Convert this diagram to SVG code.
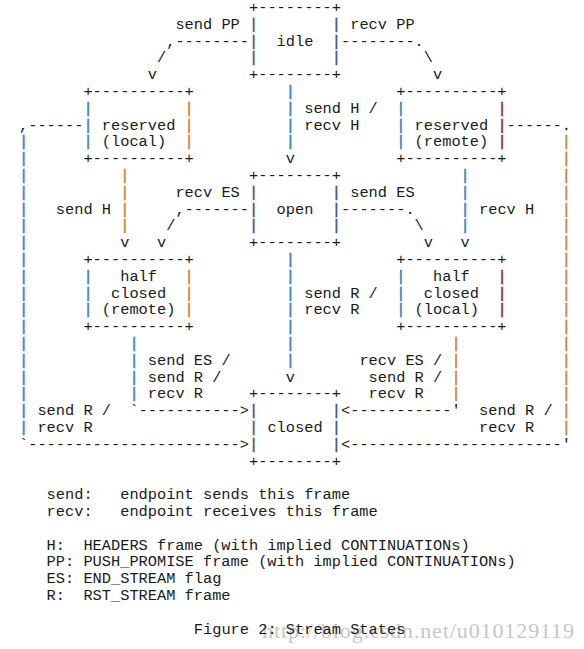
<svg xmlns="http://www.w3.org/2000/svg" width="584" height="649" viewBox="0 0 584 649" xml:space="preserve">
<style>
text { font-family: "Liberation Mono", "Courier New", monospace; font-size: 15.33px; fill: #1a1a1a; white-space: pre; }
.b { fill: #3a82c6; stroke: #3a82c6; stroke-width: 0.5px; }
.o { fill: #c9843f; stroke: #c9843f; stroke-width: 0.5px; }
.p { fill: #951d5c; stroke: #951d5c; stroke-width: 0.5px; }
.k { fill: #34588a; stroke: #34588a; stroke-width: 0.4px; }
text.wm { font-family: "Liberation Serif", "Times New Roman", serif; font-size: 22px; fill: #c6c6c6; }
</style>
<rect width="584" height="649" fill="#ffffff"/>

<g id="connectors">
  <g id="c-idle-reslocal">
    <text x="166.2" y="45.5">,--------</text>
    <text x="157" y="62.3">/</text>
    <text x="147.8" y="79.1">v</text>
  </g>
  <g id="c-idle-resremote">
    <text x="341" y="45.5">--------.</text>
    <text x="423.8" y="62.3">\</text>
    <text x="433" y="79.1">v</text>
  </g>
  <g id="c-idle-open">
    <text class="b" x="285.8 285.8 285.8 285.8" y="95.9 112.7 129.5 146.3">||||</text>
    <text x="285.8" y="163.1">v</text>
  </g>
  <g id="c-reslocal-hcremote">
    <text class="o" x="120.2 120.2 120.2 120.2" y="179.9 196.7 213.5 230.3">||||</text>
    <text x="120.2" y="247.1">v</text>
  </g>
  <g id="c-resremote-hclocal">
    <text class="b" x="460.6 460.6 460.6 460.6" y="179.9 196.7 213.5 230.3">||||</text>
    <text x="460.6" y="247.1">v</text>
  </g>
  <g id="c-open-hcremote">
    <text x="175.4" y="213.5">,-------</text>
    <text x="166.2" y="230.3">/</text>
    <text x="157" y="247.1">v</text>
  </g>
  <g id="c-open-hclocal">
    <text x="341" y="213.5">-------.</text>
    <text x="414.6" y="230.3">\</text>
    <text x="423.8" y="247.1">v</text>
  </g>
  <g id="c-open-closed">
    <text class="b" x="285.8 285.8 285.8 285.8 285.8 285.8 285.8" y="263.9 280.7 297.5 314.3 331.1 347.9 364.7">|||||||</text>
    <text x="285.8" y="381.5">v</text>
  </g>
  <g id="c-hcremote-closed">
    <text class="b" x="129.4 129.4 129.4 129.4" y="347.9 364.7 381.5 398.3">||||</text>
    <text x="129.4" y="415.1">`-----------&gt;</text>
  </g>
  <g id="c-hclocal-closed">
    <text class="o" x="451.4 451.4 451.4 451.4" y="347.9 364.7 381.5 398.3">||||</text>
    <text x="341" y="415.1">&lt;-----------'</text>
  </g>
  <g id="c-reslocal-closed">
    <text x="19" y="129.5">,------</text>
    <text class="b" x="19 19 19 19 19 19 19 19 19 19 19 19 19 19 19 19 19 19" y="146.3 163.1 179.9 196.7 213.5 230.3 247.1 263.9 280.7 297.5 314.3 331.1 347.9 364.7 381.5 398.3 415.1 431.9">||||||||||||||||||</text>
    <text x="19" y="448.7">`-----------------------&gt;</text>
  </g>
  <g id="c-resremote-closed">
    <text x="506.6" y="129.5">------.</text>
    <text class="o" x="561.8 561.8 561.8 561.8 561.8 561.8 561.8 561.8 561.8 561.8 561.8 561.8 561.8 561.8 561.8 561.8 561.8 561.8" y="146.3 163.1 179.9 196.7 213.5 230.3 247.1 263.9 280.7 297.5 314.3 331.1 347.9 364.7 381.5 398.3 415.1 431.9">||||||||||||||||||</text>
    <text x="341" y="448.7">&lt;-----------------------'</text>
  </g>
</g>

<g id="labels">
  <text x="175.4" y="28.7">send PP</text>
  <text x="350.2" y="28.7">recv PP</text>
  <text x="304.2" y="112.7">send H /</text>
  <text x="304.2" y="129.5">recv H</text>
  <text x="175.4" y="196.7">recv ES</text>
  <text x="350.2" y="196.7">send ES</text>
  <text x="55.8" y="213.5">send H</text>
  <text x="479" y="213.5">recv H</text>
  <text x="304.2" y="297.5">send R /</text>
  <text x="304.2" y="314.3">recv R</text>
  <text x="147.8" y="364.7">send ES /</text>
  <text x="147.8" y="381.5">send R /</text>
  <text x="147.8" y="398.3">recv R</text>
  <text x="359.4" y="364.7">recv ES /</text>
  <text x="368.6" y="381.5">send R /</text>
  <text x="368.6" y="398.3">recv R</text>
  <text x="37.4" y="415.1">send R /</text>
  <text x="37.4" y="431.9">recv R</text>
  <text x="479" y="415.1">send R /</text>
  <text x="479" y="431.9">recv R</text>
</g>

<g id="node-idle">
  <text x="249" y="11.9">+--------+</text>
  <text x="249" y="28.7"><tspan class="k">|</tspan>        <tspan class="k">|</tspan></text>
  <text x="249" y="45.5"><tspan class="k">|</tspan>  idle  <tspan class="k">|</tspan></text>
  <text x="249" y="62.3"><tspan class="k">|</tspan>        <tspan class="k">|</tspan></text>
  <text x="249" y="79.1">+--------+</text>
</g>

<g id="node-reserved-local">
  <text x="83.4" y="95.9">+----------+</text>
  <text x="83.4" y="112.7"><tspan class="b">|</tspan>          <tspan class="o">|</tspan></text>
  <text x="83.4" y="129.5"><tspan class="b">|</tspan> reserved <tspan class="o">|</tspan></text>
  <text x="83.4" y="146.3"><tspan class="b">|</tspan> (local)  <tspan class="o">|</tspan></text>
  <text x="83.4" y="163.1">+----------+</text>
</g>

<g id="node-reserved-remote">
  <text x="396.2" y="95.9">+----------+</text>
  <text x="396.2" y="112.7"><tspan class="b">|</tspan>          <tspan class="p">|</tspan></text>
  <text x="396.2" y="129.5"><tspan class="b">|</tspan> reserved <tspan class="p">|</tspan></text>
  <text x="396.2" y="146.3"><tspan class="b">|</tspan> (remote) <tspan class="p">|</tspan></text>
  <text x="396.2" y="163.1">+----------+</text>
</g>

<g id="node-open">
  <text x="249" y="179.9">+--------+</text>
  <text x="249" y="196.7"><tspan class="k">|</tspan>        <tspan class="k">|</tspan></text>
  <text x="249" y="213.5"><tspan class="k">|</tspan>  open  <tspan class="k">|</tspan></text>
  <text x="249" y="230.3"><tspan class="k">|</tspan>        <tspan class="k">|</tspan></text>
  <text x="249" y="247.1">+--------+</text>
</g>

<g id="node-half-closed-remote">
  <text x="83.4" y="263.9">+----------+</text>
  <text x="83.4" y="280.7"><tspan class="b">|</tspan>   half   <tspan class="o">|</tspan></text>
  <text x="83.4" y="297.5"><tspan class="b">|</tspan>  closed  <tspan class="o">|</tspan></text>
  <text x="83.4" y="314.3"><tspan class="b">|</tspan> (remote) <tspan class="o">|</tspan></text>
  <text x="83.4" y="331.1">+----------+</text>
</g>

<g id="node-half-closed-local">
  <text x="396.2" y="263.9">+----------+</text>
  <text x="396.2" y="280.7"><tspan class="b">|</tspan>   half   <tspan class="p">|</tspan></text>
  <text x="396.2" y="297.5"><tspan class="b">|</tspan>  closed  <tspan class="p">|</tspan></text>
  <text x="396.2" y="314.3"><tspan class="b">|</tspan> (local)  <tspan class="p">|</tspan></text>
  <text x="396.2" y="331.1">+----------+</text>
</g>

<g id="node-closed">
  <text x="249" y="398.3">+--------+</text>
  <text x="249" y="415.1"><tspan class="k">|</tspan>        <tspan class="k">|</tspan></text>
  <text x="249" y="431.9"><tspan class="k">|</tspan> closed <tspan class="k">|</tspan></text>
  <text x="249" y="448.7"><tspan class="k">|</tspan>        <tspan class="k">|</tspan></text>
  <text x="249" y="465.5">+--------+</text>
</g>

<g id="legend">
  <text x="46.6" y="499.1">send:   endpoint sends this frame</text>
  <text x="46.6" y="515.9">recv:   endpoint receives this frame</text>
  <text x="46.6" y="549.5">H:  HEADERS frame (with implied CONTINUATIONs)</text>
  <text x="46.6" y="566.3">PP: PUSH_PROMISE frame (with implied CONTINUATIONs)</text>
  <text x="46.6" y="583.1">ES: END_STREAM flag</text>
  <text x="46.6" y="599.9">R:  RST_STREAM frame</text>
</g>

<text class="wm" x="262" y="638" textLength="312" lengthAdjust="spacing">http://blog.csdn.net/u010129119</text>
<text id="caption" x="193.8" y="633.5">Figure 2: Stream States</text>
</svg>
